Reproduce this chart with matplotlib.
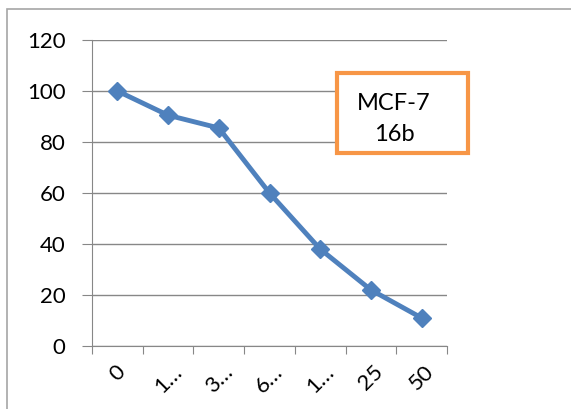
import matplotlib.pyplot as plt
from matplotlib.patches import Rectangle

categories = ['0', '1…', '3…', '6…', '1…', '25', '50']
values = [100, 90.5, 85.5, 60, 38, 22, 11]

plt.rcParams['font.family'] = ['Lato', 'DejaVu Sans']

fig = plt.figure(figsize=(5.71, 4.09), dpi=100)
ax = fig.add_axes([92 / 571, 1 - 346 / 409, 355 / 571, 306 / 409])

x = list(range(len(categories)))
ax.plot(x, values, color='#4F81BD', linewidth=3.5, marker='D', markersize=9,
        markerfacecolor='#4F81BD', markeredgecolor='#4F81BD')

ax.set_xlim(-0.5, len(categories) - 0.5)
ax.set_ylim(0, 120)
ax.set_yticks(range(0, 121, 20))
ax.yaxis.grid(True, color='#878787', linewidth=1)
ax.set_axisbelow(True)

ax.set_xticks([i - 0.5 for i in range(len(categories) + 1)])
ax.set_xticklabels([])
ax.set_xticks(x, minor=True)
ax.set_xticklabels(categories, minor=True, rotation=45, ha='center', fontsize=16)
ax.tick_params(axis='x', which='minor', length=0, pad=11)
ax.tick_params(axis='x', which='major', length=6, color='#878787', direction='out')
ax.tick_params(axis='y', length=7, color='#878787', labelsize=16, pad=12)

for s in ['top', 'right']:
    ax.spines[s].set_visible(False)
ax.spines['left'].set_color('#878787')
ax.spines['bottom'].set_color('#878787')

# outer chart border
fig.patches.append(Rectangle((7 / 571, -0.1), 1.2, 1 - 9 / 409 + 0.1,
                             transform=fig.transFigure, fill=False,
                             edgecolor='#a6a6a6', linewidth=1.2))

# label box
fig.patches.append(Rectangle((337 / 571, 1 - 153 / 409), 131 / 571, 80 / 409,
                             transform=fig.transFigure, facecolor='white',
                             edgecolor='#F79646', linewidth=3, zorder=5))
fig.text(394 / 571, 1 - 119 / 409, 'MCF-7\n16b', ha='center', va='center',
         fontsize=17, linespacing=1.6, zorder=6)

fig.savefig('out.png', dpi=100)
